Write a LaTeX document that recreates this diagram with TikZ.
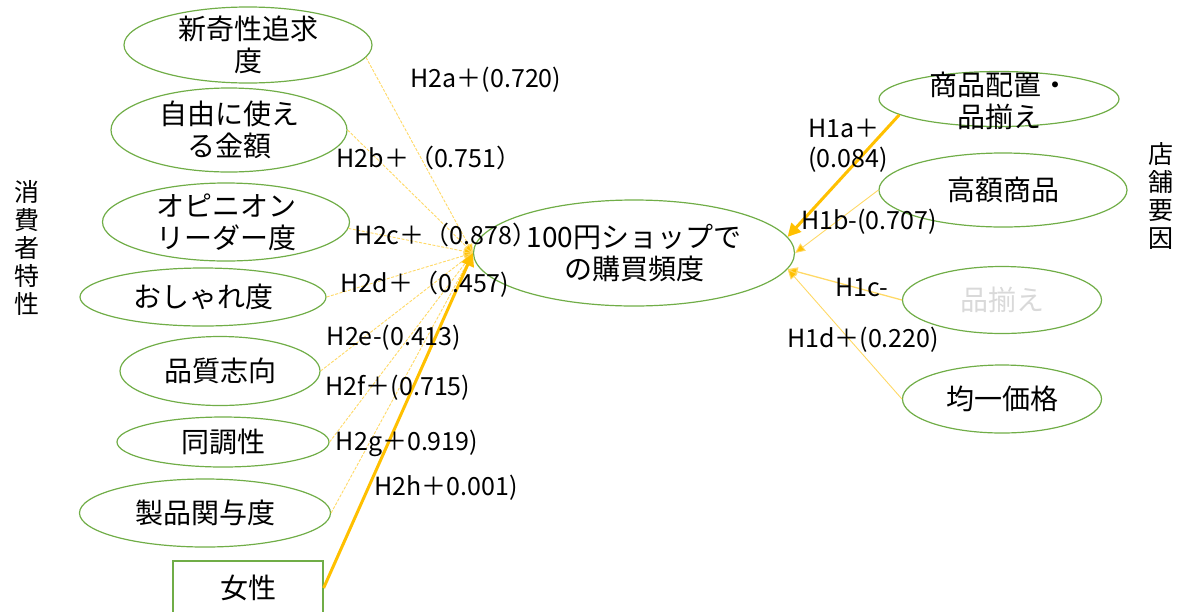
\documentclass[tikz,border=0pt]{standalone}
\usepackage{fontspec}
\setmainfont{Noto Sans CJK JP}
\usetikzlibrary{shapes.geometric,arrows.meta}
\definecolor{egreen}{HTML}{70AD47}
\definecolor{aorange}{HTML}{FFC000}
\definecolor{alight}{HTML}{FFD966}
\definecolor{ggray}{HTML}{D9D9D9}
\begin{document}
\begin{tikzpicture}[x=1pt,y=-1pt,
  ell/.style={ellipse,draw=egreen,line width=1.2pt,inner sep=0pt},
  box/.style={rectangle,draw=egreen,line width=1.2pt,inner sep=0pt},
  txt/.style={font=\fontsize{28}{32}\selectfont,align=center,inner sep=0pt},
  lab/.style={font=\fontsize{25}{30}\selectfont,align=left,inner sep=0pt},
  side/.style={font=\fontsize{25}{28}\selectfont,align=center,inner sep=0pt},
  thick arr/.style={draw=aorange,line width=3pt,-{Triangle[width=13pt,length=13pt]}},
  thin dash/.style={draw=alight,line width=0.9pt,dash pattern=on 3pt off 1.5pt,-{Triangle[width=8pt,length=9pt,fill=aorange]}},
  thin arr/.style={draw=alight,line width=0.9pt,-{Triangle[width=9pt,length=10pt,fill=aorange]}}]
\useasboundingbox (0,0) rectangle (1182,611);
\begin{scope}
\clip (0,0) rectangle (1182,611);
% left ellipses
\node[ell,minimum width=248pt,minimum height=76pt,label={[txt]center:新奇性追求\\度}] (e1) at (248,45) {};
\node[ell,minimum width=236pt,minimum height=84pt,label={[txt]center:自由に使え\\る金額}] (e2) at (229,130) {};
\node[ell,minimum width=247pt,minimum height=78pt,label={[txt]center:オピニオン\\リーダー度}] (e3) at (226,222) {};
\node[ell,minimum width=246pt,minimum height=58pt,label={[txt]center:おしゃれ度}] (e4) at (203,297) {};
\node[ell,minimum width=200pt,minimum height=69pt,label={[txt]center:品質志向}] (e5) at (220,371) {};
\node[ell,minimum width=212pt,minimum height=50pt,label={[txt]center:同調性}] (e6) at (223,442) {};
\node[ell,minimum width=251pt,minimum height=68pt,label={[txt]center:製品関与度}] (e7) at (205,513) {};
\node[box,minimum width=150pt,minimum height=54pt,label={[txt]center:女性}] (f) at (248,588) {};
% center
\node[ell,minimum width=321pt,minimum height=106pt,label={[txt]center:100円ショップで\\の購買頻度}] (cen) at (634,253) {};
% right ellipses
\node[ell,minimum width=240pt,minimum height=55pt] (r1) at (999,99) {};
\node[txt] (r1t) at (999,101) {商品配置・\\品揃え};
\node[ell,minimum width=248pt,minimum height=74pt,label={[txt]center:高額商品}] (r2) at (1003,190) {};
\node[ell,minimum width=199pt,minimum height=67pt,label={[txt,text=ggray]center:品揃え}] (r3) at (1002,300) {};
\node[ell,minimum width=199pt,minimum height=68pt,label={[txt]center:均一価格}] (r4) at (1002,399) {};
\end{scope}
% side labels
\node[side] (sl) at (27,248) {消\\費\\者\\特\\性};
\node[side] (sr) at (1161,196) {店\\舗\\要\\因};
% left connectors
\draw[thin dash] (e1.-6) -- (cen.west);
\draw[thin dash] (e2.east) -- (cen.west);
\draw[thin dash] (e3.-3) -- (cen.west);
\draw[thin dash] (e4.east) -- (cen.west);
\draw[thin dash] (e5.east) -- (cen.west);
\draw[thin dash] (e6.east) -- (cen.west);
\draw[thin dash] (e7.east) -- (cen.west);
\draw[thick arr] (f.east) -- (cen.west);
% right connectors
\draw[thick arr] (r1.-171) -- (cen.6);
\draw[thin arr] (r2.west) -- (cen.east);
\draw[thin arr,line width=1.3pt] (r3.west) -- (cen.-6);
\draw[thin arr] (r4.west) -- (cen.-6);
% labels
\node[lab] (l2a) at (486,80) {H2a＋(0.720)};
\node[lab] (l2b) at (429,158) {H2b＋（0.751）};
\node[lab] (l2c) at (446,235) {H2c＋（0.878）};
\node[lab] (l2d) at (425,284) {H2d＋（0.457)};
\node[lab] (l2e) at (394,338) {H2e-(0.413)};
\node[lab] (l2f) at (398,388) {H2f＋(0.715)};
\node[lab] (l2g) at (407,443) {H2g＋0.919)};
\node[lab] (l2h) at (446,488) {H2h＋0.001)};
\node[lab,anchor=west] (l1a) at (808,146) {H1a＋\\(0.084)};
\node[lab] (l1b) at (869,222) {H1b-(0.707)};
\node[lab] (l1c) at (862,287) {H1c-};
\node[lab] (l1d) at (863,340) {H1d＋(0.220)};
\end{tikzpicture}
\end{document}
